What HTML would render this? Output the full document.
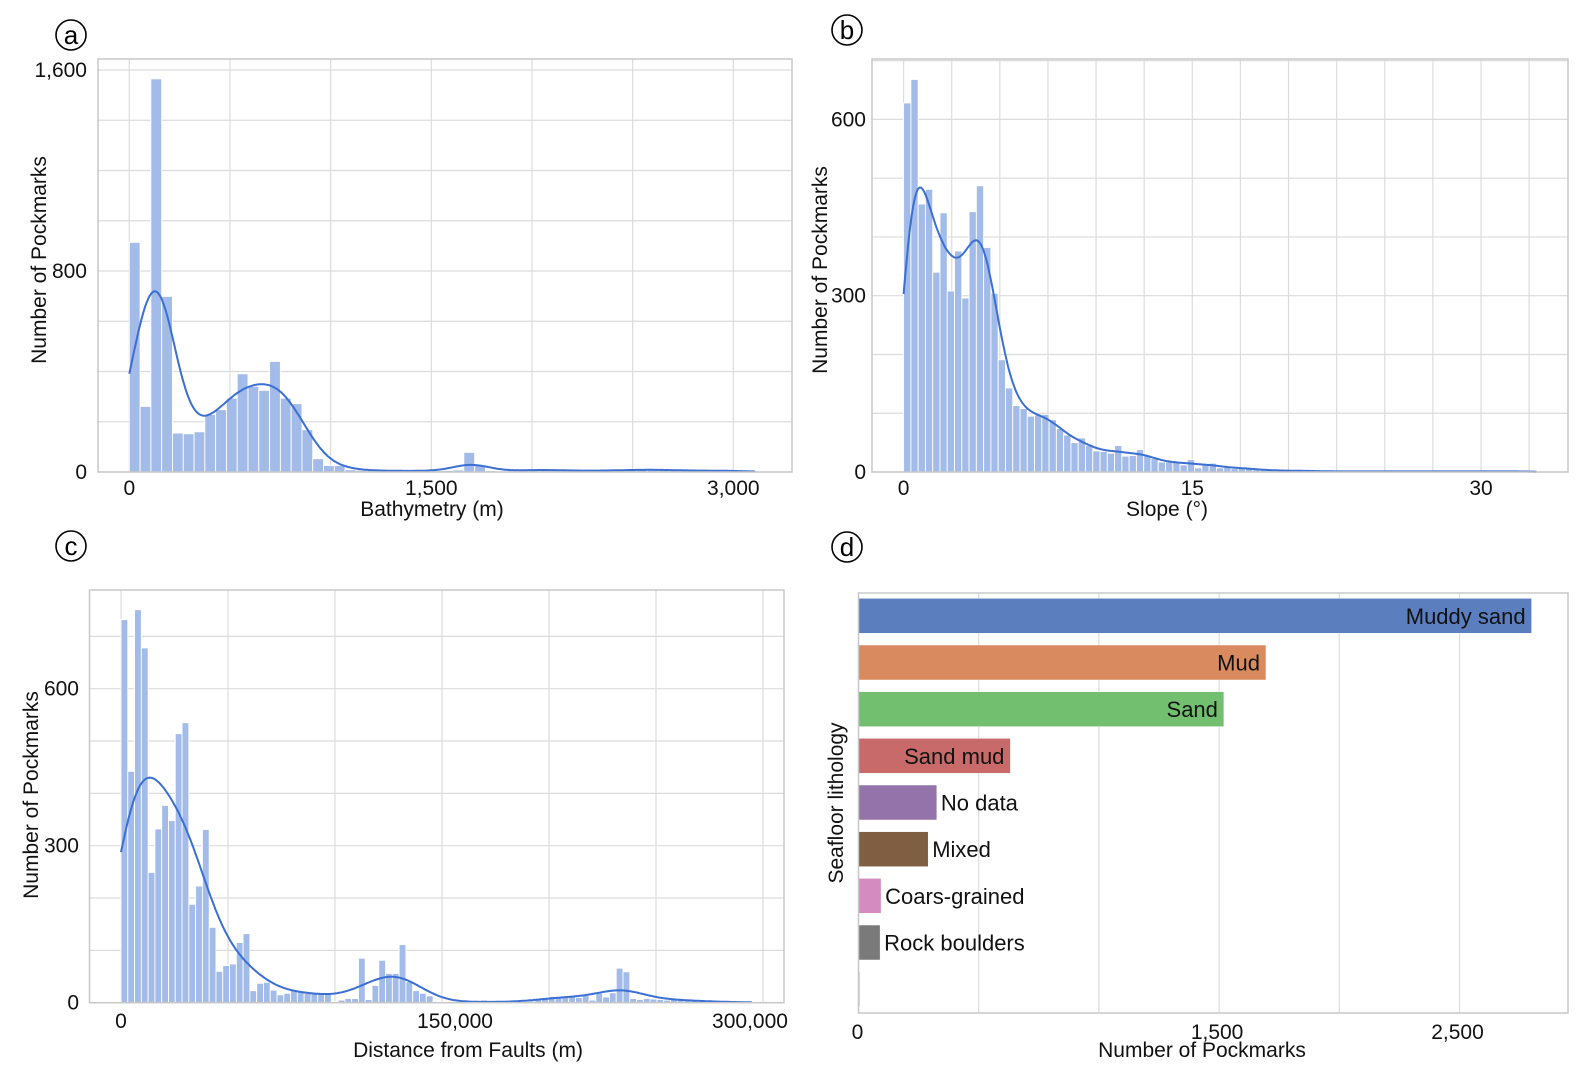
<!DOCTYPE html>
<html><head><meta charset="utf-8">
<style>
html,body{margin:0;padding:0;background:#fff;}
svg{display:block;font-family:"Liberation Sans",Arial,sans-serif;}
</style></head>
<body>
<svg id="fig" width="1584" height="1084" viewBox="0 0 1584 1084" xmlns="http://www.w3.org/2000/svg"></svg>
<script>
// ---- data ----
const aCounts=[914,261,1565,699,155,152,160,229,248,294,391,341,325,440,294,272,168,53,26,26,9,7,6,5,5,4,4,4,5,6,8,78,26,5,4,5,6,10,9,8,6,5,5,5,6,7,8,9,10,9,7,6,5,5,6,5,4,3];
const aBinWidth=53.6;
const aXTicks=[0,1500,3000];
const aXTickLabels=["0","1,500","3,000"];
const aYTicks=[0,800,1600];
const aYTickLabels=["0","800","1,600"];

const bCounts=[628,668,456,481,340,441,308,376,296,443,487,382,304,191,143,113,108,95,97,98,89,74,63,50,58,45,36,35,32,45,27,28,38,28,23,17,17,17,12,21,7,14,15,7,9,6,7,7,4,3,3,3,2,2,2,2,2,1,1,1,1,1,1,1,1,1,1,1,1,1,1,1,1,1,1,1,1,1,1,1,1,1,1,1,1,1,1];
const bBinWidth=0.378;
const bXTicks=[0,15,30];
const bXTickLabels=["0","15","30"];
const bYTicks=[0,300,600];
const bYTickLabels=["0","300","600"];

const cCounts=[732,442,751,678,249,332,377,348,514,535,188,223,331,144,60,71,74,115,132,23,37,39,24,15,18,24,23,18,18,17,17,2,5,8,8,85,6,33,81,56,56,111,40,23,18,13,2,1,1,1,1,0,0,5,1,1,1,1,1,1,3,6,8,12,10,12,12,10,14,5,18,11,19,66,59,8,6,8,7,6,5,7,6,4,4,3,2,2,2,1,1,1,1];
const cBinWidth=3170;
const cXTicks=[0,150000,300000];
const cXTickLabels=["0","150,000","300,000"];
const cYTicks=[0,300,600];
const cYTickLabels=["0","300","600"];

const dCategories=["Muddy sand","Mud","Sand","Sand mud","No data","Mixed","Coars-grained","Rock boulders",""];
const dValues=[2800,1695,1520,632,326,290,94,90,6];
const dColors=["#5b7ebf","#d98b5f","#72c06f","#c96a6a","#9472aa","#7f5e42","#d48bc0","#7a7a7a","#c8b8a0"];
const dXTicks=[0,1500,2500];
const dXTickLabels=["0","1,500","2,500"];

// ---- helpers ----
const NS="http://www.w3.org/2000/svg";
const svg=document.getElementById('fig');
const FS=21;
function mk(tag,attrs,parent){const e=document.createElementNS(NS,tag);for(const k in attrs)e.setAttribute(k,attrs[k]);(parent||svg).appendChild(e);return e;}
function txt(s,attrs,parent){const e=mk('text',attrs,parent);e.textContent=s;return e;}

function panelLetter(ch,cx,cy){
  const g=mk('g',{});
  
  
  mk('circle',{cx:cx,cy:cy,r:15,fill:'none',stroke:'#000','stroke-width':1.6},g);
  txt(ch,{x:cx,y:cy+9,'text-anchor':'middle','font-size':26,fill:'#000'},g);
}

function histPanel(o){
  const g=mk('g',{});
  
  
  const X=v=>o.x0+(v-o.xmin)*o.xs;
  const Y=v=>o.y0-v*o.ys;
  for(let v=o.xGridStart;X(v)<o.box[2];v+=o.xGridStep){
    const l=mk('line',{x1:X(v),x2:X(v),y1:o.box[1],y2:o.box[3],stroke:'#dcdcdc','stroke-width':1.2},g);
    
    
  }
  for(let v=0;Y(v)>o.box[1];v+=o.yGridStep){
    const l=mk('line',{x1:o.box[0],x2:o.box[2],y1:Y(v),y2:Y(v),stroke:'#dcdcdc','stroke-width':1.2},g);
    
    
  }
  const counts=o.counts,bw=o.binWidth;
  counts.forEach((c,i)=>{
    const x1=X(i*bw),x2=X((i+1)*bw);
    const r=mk('rect',{x:x1,y:Y(c),width:Math.max(0,x2-x1),height:Math.max(0,Y(0)-Y(c)),fill:'#a2bbe8',stroke:'#ffffff','stroke-width':0.9},g);
    
    
  });
  const sig=o.sigma*bw;
  let d='';
  const xmax=counts.length*bw;
  const N=400;
  for(let k=0;k<=N;k++){
    const x=xmax*k/N;
    let s=0;
    counts.forEach((c,i)=>{const m=(i+0.5)*bw;const z=(x-m)/sig;s+=c*Math.exp(-0.5*z*z);});
    s=s*bw/(sig*Math.sqrt(2*Math.PI));
    d+=(k?'L':'M')+X(x).toFixed(1)+','+Y(s).toFixed(1);
  }
  const p=mk('path',{d:d,fill:'none',stroke:'#3b6fd1','stroke-width':2},g);
  
  
  const b=mk('rect',{x:o.box[0],y:o.box[1],width:o.box[2]-o.box[0],height:o.box[3]-o.box[1],fill:'none',stroke:'#c8c8c8','stroke-width':1.5},g);
  
  
  o.xTicks.forEach((v,i)=>{
    const t=txt(o.xTickLabels[i],{x:X(v)+(o.xLabelDx?o.xLabelDx[i]:0),y:o.xTickY,'text-anchor':'middle','font-size':FS,fill:'#111'},g);
    
    
  });
  o.yTicks.forEach((v,i)=>{
    const t=txt(o.yTickLabels[i],{x:o.yTickX,y:Y(v)+7,'text-anchor':'end','font-size':FS,fill:'#111'},g);
    
    
  });
  const xt=txt(o.xTitle,{x:o.xTitlePos[0],y:o.xTitlePos[1],'text-anchor':'middle','font-size':FS,fill:'#111'},g);
  
  
  const yt=txt('Number of Pockmarks',{x:0,y:0,'text-anchor':'middle','font-size':FS,fill:'#111',transform:'translate('+o.yTitlePos[0]+','+o.yTitlePos[1]+') rotate(-90)'},g);
  
  
}

histPanel({name:'panel-a-bathymetry',counts:aCounts,binWidth:aBinWidth,xmin:0,x0:129.3,xs:302/1500,y0:472,ys:402/1600,
  box:[98,59,792,472],xGridStart:0,xGridStep:500,yGridStep:200,sigma:1.6,
  xTicks:aXTicks,xTickLabels:aXTickLabels,yTicks:aYTicks,yTickLabels:aYTickLabels,
  xTickY:495,yTickX:87,xTitle:'Bathymetry (m)',xTitlePos:[432,516],yTitlePos:[46,260]});

histPanel({name:'panel-b-slope',counts:bCounts,binWidth:bBinWidth,xmin:0,x0:903.6,xs:(1481-903.6)/30,y0:472,ys:(472-295.7)/300,
  box:[872,59,1568,472],xGridStart:0,xGridStep:2.5,yGridStep:100,sigma:1.6,
  xTicks:bXTicks,xTickLabels:bXTickLabels,yTicks:bYTicks,yTickLabels:bYTickLabels,
  xTickY:495,yTickX:866,xTitle:'Slope (°)',xTitlePos:[1167,516],yTitlePos:[827,270]});

histPanel({name:'panel-c-fault-distance',counts:cCounts,binWidth:cBinWidth,xmin:0,x0:121,xs:107/50000,y0:1002.7,ys:157/300,
  box:[89.5,590,784,1002.7],xGridStart:0,xGridStep:50000,yGridStep:100,sigma:3.2,
  xTicks:cXTicks,xTickLabels:cXTickLabels,yTicks:cYTicks,yTickLabels:cYTickLabels,xLabelDx:[0,13,-13],
  xTickY:1028,yTickX:79,xTitle:'Distance from Faults (m)',xTitlePos:[468,1057],yTitlePos:[38,795]});

// ---- panel d ----
(function(){
  const g=mk('g',{});
  
  
  const x0=858.5,xs=120.2/500,top=593,bottom=1013,right=1568;
  const X=v=>x0+v*xs;
  for(let v=0;X(v)<right;v+=500){
    const l=mk('line',{x1:X(v),x2:X(v),y1:top,y2:bottom,stroke:'#dcdcdc','stroke-width':1.2},g);
    
    
  }
  const step=(bottom-top)/dCategories.length;
  const bh=35;
  dCategories.forEach((c,i)=>{
    const cy=top+step*(i+0.5)-0.5;
    const r=mk('rect',{x:x0,y:cy-bh/2,width:X(dValues[i])-x0,height:bh,fill:dColors[i],stroke:'#ffffff','stroke-width':0.5},g);
    
    
    if(!c)return;
    const inside=i<4;
    const t=txt(c,{x:inside?X(dValues[i])-6:X(dValues[i])+4,y:cy+8,'text-anchor':inside?'end':'start','font-size':22,fill:'#111'},g);
    
    
  });
  const b=mk('rect',{x:x0,y:top,width:right-x0,height:bottom-top,fill:'none',stroke:'#c8c8c8','stroke-width':1.5},g);
  
  
  dXTicks.forEach((v,i)=>{
    const t=txt(dXTickLabels[i],{x:X(v)+(i?-2:-1),y:1039,'text-anchor':'middle','font-size':FS,fill:'#111'},g);
    
    
  });
  const xt=txt('Number of Pockmarks',{x:1202,y:1057,'text-anchor':'middle','font-size':FS,fill:'#111'},g);
  
  
  const yt=txt('Seafloor lithology',{x:0,y:0,'text-anchor':'middle','font-size':FS,fill:'#111',transform:'translate(843,803) rotate(-90)'},g);
  
  
})();

panelLetter('a',71,35);
panelLetter('b',847,30);
panelLetter('c',71,546);
panelLetter('d',847,547);
</script>
</body></html>
